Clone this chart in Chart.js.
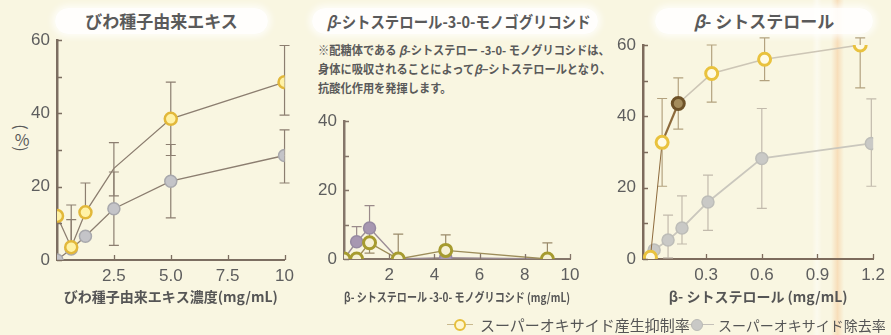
<!DOCTYPE html>
<html lang="ja">
<head>
<meta charset="utf-8">
<title>スーパーオキサイド産生抑制率・除去率</title>
<script src="https://cdn.jsdelivr.net/npm/chart.js@4.4.1/dist/chart.umd.min.js"></script>
<style>
  html, body { margin: 0; padding: 0; }
  body {
    width: 891px; height: 335px; overflow: hidden; position: relative;
    background: #f9f6e1; color: #555;
    font-family: "Noto Sans CJK JP", "Noto Sans", sans-serif;
  }
  canvas.panel { position: absolute; top: 0; }
  .stripe { position: absolute; top: 0; height: 335px; }
  .title {
    position: absolute; top: 8px; height: 26px; border-radius: 13px;
    background: rgba(255,255,255,0.88);
    box-shadow: 0 0 6px 3px rgba(255,255,255,0.75);
    text-align: center; white-space: nowrap; font-weight: bold; color: #5a5a5a;
  }
  .title span { display: inline-block; line-height: 26px; }
  .note {
    position: absolute; left: 318px; top: 40px; font-size: 12px; line-height: 19px;
    font-weight: bold; color: #5a5a5a; white-space: nowrap;
    transform: scaleX(0.935); transform-origin: 0 0;
  }
  .ylab { position: absolute; font-size: 16px; line-height: 16px; width: 20px; text-align: center; color: #5a5a5a; }
  .legend { position: absolute; top: 316px; height: 18px; line-height: 18px; color: #555; white-space: nowrap; }
  .lline { position: absolute; height: 0; border-top: 1.5px solid; }
  .mk { position: absolute; box-sizing: border-box; border-radius: 50%; }
</style>
</head>
<body>
<div class="stripe" style="left:812px;width:10px;background:linear-gradient(90deg,rgba(255,255,255,0),rgba(255,255,255,0.45),rgba(255,255,255,0));"></div>
<div class="stripe" style="left:831px;width:13px;background:linear-gradient(90deg,rgba(248,214,170,0),rgba(246,206,160,0.6),rgba(248,214,170,0));"></div>

<div class="title" style="left:55px;width:213px;font-size:17px;"><span>びわ種子由来エキス</span></div>
<div class="title" style="left:312px;width:286px;font-size:16px;"><span style="transform:scaleX(0.9);"><i>β</i>-シトステロール-3-0-モノゴグリコシド</span></div>
<div class="title" style="left:655px;width:218px;font-size:17px;"><span><i>β</i>- シトステロール</span></div>

<div class="note">※配糖体である <i>β</i>-シトステロー -3-0- モノグリコシドは、<br>身体に吸収されることによって<i>β</i>−シトステロールとなり、<br>抗酸化作用を発揮します。</div>

<div class="ylab" style="left:12px;top:119px;transform:rotate(90deg);">(</div>
<div class="ylab" style="left:12px;top:131px;">%</div>
<div class="ylab" style="left:12px;top:141px;transform:rotate(90deg);">)</div>

<canvas id="seed" class="panel" width="300" height="335" style="left:0px;"></canvas>
<canvas id="glyc" class="panel" width="290" height="335" style="left:300px;"></canvas>
<canvas id="sito" class="panel" width="301" height="335" style="left:590px;"></canvas>

<div class="lline" style="left:447px;top:324px;width:26px;border-color:#c9b98e;"></div>
<div class="mk" style="left:454px;top:319px;width:12px;height:12px;border:2.5px solid #e6bf3c;background:#fff7cf;"></div>
<div class="legend" style="left:480px;font-size:15px;">スーパーオキサイド産生抑制率</div>
<div class="lline" style="left:686px;top:324px;width:28px;border-color:#c4c0b8;"></div>
<div class="mk" style="left:691px;top:319px;width:12px;height:12px;border:1.5px solid #b8b8b4;background:#c9c9c6;"></div>
<div class="legend" style="left:718px;font-size:14px;">スーパーオキサイド除去率</div>

<script>
// ---- びわ種子由来エキス ----
const seedConc = [0, 0.625, 1.25, 2.5, 5, 10];
const seedInhibit = [12, 3.5, 13, 25, 38.5, 48.5];
const seedInhibitErrUp = [0, 11.5, 8, 7, 10, 10];
const seedInhibitErrDown = [0, 0, 0, 7.5, 10, 9];
const seedScavenge = [0, 3, 6.5, 14, 21.5, 28.5];
const seedScavengeErrUp = [0, 8, 0, 10, 10, 7];
const seedScavengeErrDown = [0, 0, 0, 10, 10, 7.5];
const seedTicksX = [2.5, 5, 7.5, 10];
const seedTickLabelsX = ['2.5', '5.0', '7.5', '10'];
const seedTicksY = [0, 20, 40, 60];

// ---- β-シトステロール-3-0-モノグリコシド ----
const glycConc = [0, 0.56, 1.13, 2.4, 4.5, 9];
const glycInhibit = [0, 0, 4.7, 0, 2.5, 0];
const glycInhibitErrUp = [0, 0, 3, 7.2, 4.5, 4.7];
const glycInhibitErrDown = [0, 0, 3, 0, 0, 3.3];
const glycScavenge = [0, 5, 9, 0, 0.4, 0];
const glycScavengeErrUp = [0, 4.4, 6.5, 0, 0, 0];
const glycScavengeErrDown = [0, 0, 0, 0, 0, 0];
const glycTicksX = [2, 4, 6, 8, 10];
const glycTickLabelsX = ['2', '4', '6', '8', '10'];
const glycTicksY = [0, 20, 40];

// ---- β-シトステロール ----
const sitoConcInhibit = [0, 0.063, 0.15, 0.33, 0.615, 1.13];
const sitoInhibit = [0.5, 32.7, 43.6, 52, 56, 60];
const sitoInhibitErrUp = [0, 12.3, 7.2, 8, 6, 2];
const sitoInhibitErrDown = [0, 12.3, 7.2, 8, 6, 12];
const sitoConcScavenge = [0, 0.02, 0.095, 0.17, 0.31, 0.6, 1.19];
const sitoScavenge = [0.5, 2.5, 5.3, 8.7, 16, 28.2, 32.4];
const sitoScavengeErrUp = [0, 0, 7, 9, 7.5, 14, 12.5];
const sitoScavengeErrDown = [0, 0, 5, 4.5, 8, 14, 12];
const sitoTicksX = [0.3, 0.6, 0.9, 1.2];
const sitoTickLabelsX = ['0.3', '0.6', '0.9', '1.2'];
const sitoTicksY = [0, 20, 40, 60];

const NUM_FONT = '"Liberation Sans", Arial, sans-serif';
const JP_FONT = '"Noto Sans CJK JP", "Noto Sans", sans-serif';
const TEXT = '#5e5e5e';

const pts = (xs, ys) => xs.map((x, i) => ({ x, y: ys[i] }));

// Vertical error bars with caps, drawn under the lines and markers
const errorBars = {
  id: 'errorBars',
  beforeDatasetsDraw(chart) {
    const { ctx, chartArea: a, scales: { x, y } } = chart;
    ctx.save();
    ctx.beginPath();
    ctx.rect(a.left - 10, a.top - 8, a.width + 20, a.bottom - a.top + 8);
    ctx.clip();
    chart.data.datasets.forEach(ds => {
      if (!ds.errUp) return;
      ctx.strokeStyle = ds.errColor;
      ctx.lineWidth = ds.errWidth || 1.2;
      const cap = 5;
      ds.data.forEach((p, i) => {
        const px = x.getPixelForValue(p.x);
        const py = y.getPixelForValue(p.y);
        [[ds.errUp[i], 1], [ds.errDown[i], -1]].forEach(([e, s]) => {
          if (!e) return;
          const t = y.getPixelForValue(p.y + s * e);
          ctx.beginPath();
          ctx.moveTo(px, py); ctx.lineTo(px, t);
          ctx.moveTo(px - cap, t); ctx.lineTo(px + cap, t);
          ctx.stroke();
        });
      });
    });
    ctx.restore();
  }
};

// Small inward tick marks on both axes
const innerTicks = {
  id: 'innerTicks',
  afterDraw(chart, args, opts) {
    const { ctx, chartArea: a, scales: { x, y } } = chart;
    ctx.save();
    ctx.strokeStyle = opts.color;
    ctx.lineWidth = 1.3;
    ctx.beginPath();
    for (let v = y.min; v <= y.max + 1e-9; v += opts.yStep) {
      const py = Math.round(y.getPixelForValue(v)) + 0.5;
      ctx.moveTo(a.left, py); ctx.lineTo(a.left + 5, py);
    }
    x.ticks.forEach(t => {
      const px = Math.round(x.getPixelForValue(t.value)) + 0.5;
      ctx.moveTo(px, a.bottom); ctx.lineTo(px, a.bottom - 5);
    });
    ctx.stroke();
    ctx.restore();
  }
};

function makePanel(id, geo, axis, datasets) {
  return new Chart(document.getElementById(id), {
    type: 'scatter',
    data: { datasets },
    options: {
      responsive: false,
      animation: false,
      devicePixelRatio: 1,
      layout: { padding: { left: 0, top: geo.top, right: geo.W - geo.right, bottom: 0 } },
      plugins: {
        legend: { display: false },
        tooltip: { enabled: false },
        innerTicks: { color: axis.color, yStep: 10 }
      },
      scales: {
        x: {
          type: 'linear', min: axis.xMin, max: axis.xMax,
          afterBuildTicks: s => { s.ticks = axis.xTicks.map(v => ({ value: v })); },
          afterFit: s => { s.height = geo.H - geo.bottom; },
          grid: { display: false, drawTicks: false },
          border: { display: true, color: axis.color, width: 2 },
          ticks: {
            padding: 6, color: TEXT, font: { family: NUM_FONT, size: 17 },
            maxRotation: 0, autoSkip: false,
            callback: v => axis.xLabels[axis.xTicks.indexOf(v)]
          },
          title: {
            display: true, text: axis.xTitle, color: '#555',
            font: { family: JP_FONT, size: axis.titleSize, weight: 'bold' },
            padding: { top: 0, bottom: 30 }
          }
        },
        y: {
          type: 'linear', min: 0, max: axis.yMax,
          afterBuildTicks: s => { s.ticks = axis.yTicks.map(v => ({ value: v })); },
          afterFit: s => { s.width = geo.left; },
          grid: { display: false, drawTicks: false },
          border: { display: true, color: axis.color, width: 2.5 },
          ticks: { padding: 7, color: TEXT, font: { family: NUM_FONT, size: 17 } }
        }
      }
    },
    plugins: [errorBars, innerTicks]
  });
}

// Panel 1: びわ種子由来エキス (the 2.5 mg/mL inhibition point has no marker, only the bend)
makePanel('seed', { W: 300, H: 335, left: 57, right: 290, top: 40, bottom: 260 }, {
  xMin: 0, xMax: 10, xTicks: seedTicksX, xLabels: seedTickLabelsX,
  yMax: 60, yTicks: seedTicksY, color: '#7c6e61',
  xTitle: 'びわ種子由来エキス濃度(mg/mL)', titleSize: 14
}, [
  {
    data: pts(seedConc, seedInhibit), showLine: true,
    borderColor: '#8c7e70', borderWidth: 1.3,
    pointRadius: c => c.dataIndex === 3 ? 0 : 6, pointBorderWidth: 2.5,
    pointBackgroundColor: '#fff2a6', pointBorderColor: '#e2b83a',
    errUp: seedInhibitErrUp, errDown: seedInhibitErrDown, errColor: '#8c7e70'
  },
  {
    data: pts(seedConc, seedScavenge), showLine: true,
    borderColor: '#8c7e70', borderWidth: 1.3,
    pointRadius: 6, pointBorderWidth: 1.5,
    pointBackgroundColor: '#c4c4c8', pointBorderColor: '#a8a8ac',
    errUp: seedScavengeErrUp, errDown: seedScavengeErrDown, errColor: '#8c7e70'
  }
]);

// Panel 2: β-シトステロール-3-0-モノグリコシド
makePanel('glyc', { W: 290, H: 335, left: 44, right: 270, top: 121, bottom: 259 }, {
  xMin: 0, xMax: 10, xTicks: glycTicksX, xLabels: glycTickLabelsX,
  yMax: 40, yTicks: glycTicksY, color: '#85766a',
  xTitle: 'β- シトステロール -3-0- モノグリコシド (mg/mL)', titleSize: 12.5
}, [
  {
    data: pts(glycConc, glycInhibit), showLine: true,
    borderColor: '#9d8d5a', borderWidth: 1.4,
    pointRadius: 6, pointBorderWidth: 3,
    pointBackgroundColor: '#f6f1d4', pointBorderColor: '#a69b2f',
    errUp: glycInhibitErrUp, errDown: glycInhibitErrDown, errColor: '#9a8a6a'
  },
  {
    data: pts(glycConc, glycScavenge), showLine: true,
    borderColor: '#9b8c95', borderWidth: 1.4,
    pointRadius: 6, pointBorderWidth: 1.5,
    pointBackgroundColor: '#a797b1', pointBorderColor: '#978aa2',
    errUp: glycScavengeErrUp, errDown: glycScavengeErrDown, errColor: '#9a8a8a'
  }
]);

// Panel 3: β-シトステロール
makePanel('sito', { W: 301, H: 335, left: 53, right: 287, top: 45, bottom: 259 }, {
  xMin: -0.04, xMax: 1.2, xTicks: sitoTicksX, xLabels: sitoTickLabelsX,
  yMax: 60, yTicks: sitoTicksY, color: '#7d6b5c',
  xTitle: 'β- シトステロール (mg/mL)', titleSize: 14
}, [
  {
    data: pts(sitoConcInhibit, sitoInhibit), showLine: true,
    segment: {
      borderColor: c => c.p0DataIndex < 2 ? '#8d6a3c' : '#cdc6b6',
      borderWidth: c => c.p0DataIndex === 0 ? 1 : (c.p0DataIndex === 1 ? 2.2 : 1.6)
    },
    pointRadius: 6, pointBorderWidth: 3,
    pointBackgroundColor: c => c.dataIndex === 2 ? '#a48c5c' : '#fffbe6',
    pointBorderColor: c => c.dataIndex === 2 ? '#6e5228' : '#e9c23e',
    errUp: sitoInhibitErrUp, errDown: sitoInhibitErrDown, errColor: '#b3a27f'
  },
  {
    data: pts(sitoConcScavenge, sitoScavenge), showLine: true,
    borderColor: '#cac7bd', borderWidth: 1.8,
    pointRadius: 6, pointBorderWidth: 1.5,
    pointBackgroundColor: '#c9c9c6', pointBorderColor: '#bdbdb8',
    errUp: sitoScavengeErrUp, errDown: sitoScavengeErrDown, errColor: '#c2baac'
  }
]);
</script>
</body>
</html>
